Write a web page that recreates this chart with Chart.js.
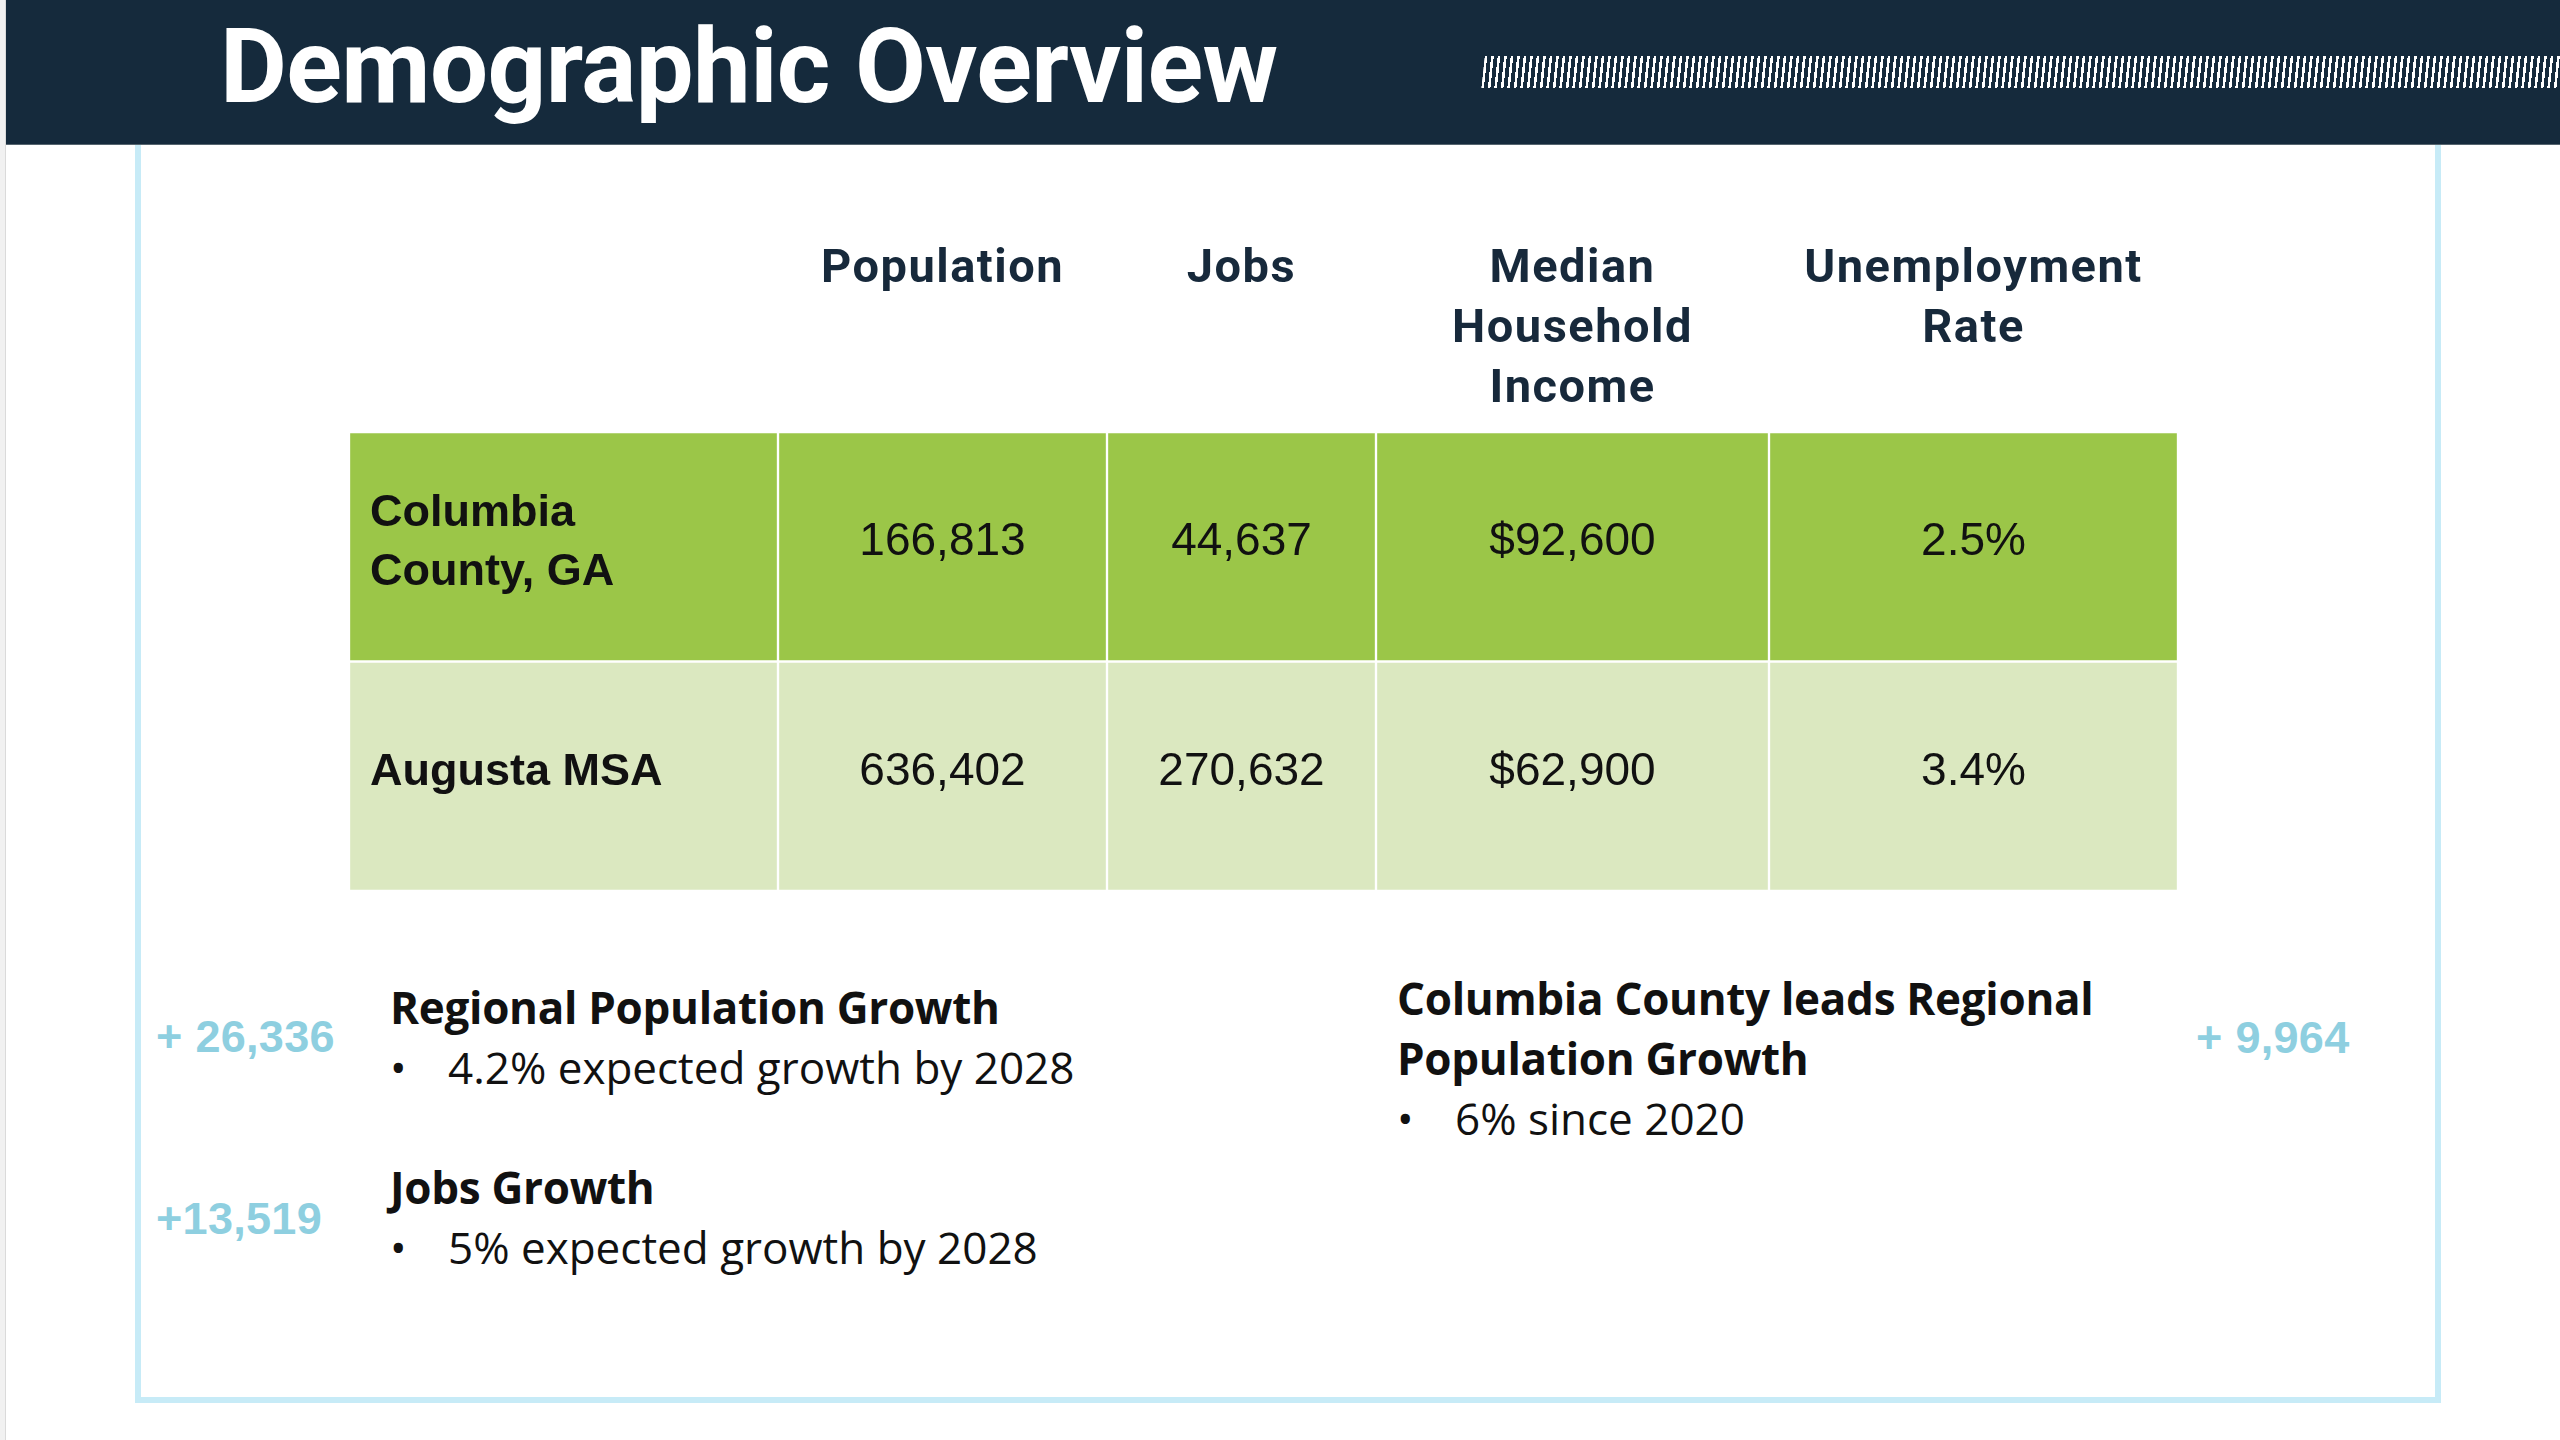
<!DOCTYPE html>
<html>
<head>
<meta charset="utf-8">
<title>Demographic Overview</title>
<script src="https://cdn.jsdelivr.net/npm/chart.js@4.4.1/dist/chart.umd.min.js"></script>
<style>
  html, body { margin: 0; padding: 0; background: #fff; }
  body { width: 2560px; height: 1440px; position: relative; overflow: hidden; font-family: "Open Sans", sans-serif; }
  .edge { position: absolute; left: 0; top: 0; width: 5px; height: 1440px; background: #f1f1f1; border-right: 1px solid #dadada; }
  .frame { position: absolute; left: 135px; top: 120px; width: 2306px; height: 1283px; box-sizing: border-box; border: 6px solid #c7ebf7; }
  .header { position: absolute; left: 6px; top: 0; width: 2554px; height: 144px; background: #152a3c; border-bottom: 1px solid #56656f; overflow: hidden; z-index: 2; }
  .header h1 { position: absolute; left: 214px; top: 15px; margin: 0; color: #fff; font: bold 103px/104px Roboto, "Liberation Sans", sans-serif; letter-spacing: -0.6px; white-space: nowrap; }
  .stripes { position: absolute; left: 1477px; top: 56px; width: 1100px; height: 32px; transform: skewX(-6deg);
    background: repeating-linear-gradient(90deg, #fff 0 2.6px, transparent 2.6px 6.5px); }
  #table { position: absolute; left: 349px; top: 200px; width: 1829px; height: 691px; }
  .note { position: absolute; font-size: 44px; line-height: 60px; color: #111; white-space: nowrap; }
  .note .t { font-weight: bold; letter-spacing: -0.3px; }
  .note .b { position: relative; padding-left: 58px; }
  .note .b::before { content: "\2022"; position: absolute; left: 0; }
  .gain { position: absolute; font: bold 45px/60px "Liberation Sans", Arial, sans-serif; letter-spacing: 0.3px; color: #8ecfe0; white-space: nowrap; }
</style>
</head>
<body>
<div class="edge"></div>
<div class="frame"></div>
<div class="header"><h1>Demographic Overview</h1><div class="stripes"></div></div>
<div id="table"><canvas id="canvas"></canvas></div>
<div id="notes"></div>
<script>
// table data
var headers = ['', 'Population', 'Jobs', 'Median Household Income', 'Unemployment Rate'];
var headerLines = [[], ['Population'], ['Jobs'], ['Median', 'Household', 'Income'], ['Unemployment', 'Rate']];
var regions = ['Columbia County, GA', 'Augusta MSA'];
var population = [166813, 636402];
var jobs = [44637, 270632];
var medianIncome = [92600, 62900];
var unemploymentRate = [2.5, 3.4];

// growth notes
var noteTitles = ['Regional Population Growth', 'Jobs Growth', 'Columbia County leads Regional\nPopulation Growth'];
var noteBullets = ['4.2% expected growth by 2028', '5% expected growth by 2028', '6% since 2020'];
var noteGains = ['+ 26,336', '+13,519', '+ 9,964'];

// layout (pixels)
var colSpan = [429, 329, 269, 393, 409];
var rowColors = ['#9bc648', '#dbe8c0'];
var notePos = [[390, 977], [390, 1157], [1397, 968]];
var gainPos = [[156, 1007], [156, 1189], [2196, 1008]];

var fmtInt = function(v) { return v.toLocaleString('en-US'); };
var cellValues = [
    population.map(fmtInt),
    jobs.map(fmtInt),
    medianIncome.map(function(v) { return '$' + fmtInt(v); }),
    unemploymentRate.map(function(v) { return v.toFixed(1) + '%'; })
];

var colEdges = [0];
colSpan.forEach(function(w, i) { colEdges.push(colEdges[i] + w); });
var colCenters = colSpan.map(function(w, i) { return colEdges[i] + w / 2; });

var datasets = headers.map(function(h, c) {
    return {
        label: h || 'Region',
        data: regions.map(function() { return [colEdges[c], colEdges[c + 1]]; }),
        backgroundColor: rowColors,
        borderColor: '#ffffff',
        borderWidth: 1.5,
        borderSkipped: false,
        grouped: false,
        barPercentage: 1,
        categoryPercentage: 1
    };
});

function wrapText(ctx, text, maxWidth) {
    var words = text.split(' '), lines = [], line = '';
    words.forEach(function(w) {
        var test = line ? line + ' ' + w : w;
        if (line && ctx.measureText(test).width > maxWidth) {
            lines.push(line);
            line = w;
        } else {
            line = test;
        }
    });
    lines.push(line);
    return lines;
}

// header ticks are drawn a little letter-spaced
var spacing = {
    id: 'spacing',
    beforeLayout: function(chart) { chart.ctx.letterSpacing = '1.5px'; },
    beforeDraw: function(chart) { chart.ctx.letterSpacing = '1.5px'; }
};

var cellText = {
    id: 'cellText',
    afterDatasetsDraw: function(chart) {
        var ctx = chart.ctx;
        ctx.save();
        ctx.letterSpacing = '0px';
        ctx.fillStyle = '#111111';
        ctx.textBaseline = 'middle';
        chart.data.datasets.forEach(function(ds, c) {
            chart.getDatasetMeta(c).data.forEach(function(bar, r) {
                var left = Math.min(bar.x, bar.base), right = Math.max(bar.x, bar.base);
                var lines, x;
                if (c === 0) {
                    ctx.font = 'bold 45px "Liberation Sans", Arial, sans-serif';
                    ctx.textAlign = 'left';
                    lines = wrapText(ctx, regions[r], (right - left) * 0.8);
                    x = left + 21;
                } else {
                    ctx.font = '46px "Liberation Sans", Arial, sans-serif';
                    ctx.textAlign = 'center';
                    lines = [cellValues[c - 1][r]];
                    x = (left + right) / 2;
                }
                var lh = 59;
                var y0 = bar.y - 4 - (lines.length - 1) * lh / 2;
                lines.forEach(function(l, i) { ctx.fillText(l, x, y0 + i * lh); });
            });
        });
        ctx.restore();
        ctx.letterSpacing = '1.5px';
    }
};

window.onload = function() {
    var ctx = document.getElementById('canvas').getContext('2d');
    new Chart(ctx, {
        type: 'bar',
        data: { labels: regions, datasets: datasets },
        plugins: [spacing, cellText],
        options: {
            indexAxis: 'y',
            responsive: true,
            maintainAspectRatio: false,
            animation: false,
            layout: { padding: 0 },
            plugins: { legend: { display: false }, tooltip: { enabled: false } },
            scales: {
                x: {
                    type: 'linear',
                    position: 'top',
                    min: 0,
                    max: colEdges[colEdges.length - 1],
                    grid: { display: false, drawTicks: false },
                    border: { display: false },
                    afterBuildTicks: function(scale) {
                        scale.ticks = colCenters.slice(1).map(function(v) { return { value: v }; });
                    },
                    afterFit: function(scale) { scale.height = 232; },
                    ticks: {
                        autoSkip: false,
                        maxRotation: 0,
                        minRotation: 0,
                        crossAlign: 'far',
                        padding: 12,
                        color: '#17293b',
                        font: { family: 'Roboto', weight: 'bold', size: 47, lineHeight: 60 / 47 },
                        callback: function(value, index) { return headerLines[index + 1]; }
                    }
                },
                y: { display: false }
            }
        }
    });

    var notes = document.getElementById('notes');
    noteTitles.forEach(function(t, i) {
        var d = document.createElement('div');
        d.className = 'note';
        d.style.left = notePos[i][0] + 'px';
        d.style.top = notePos[i][1] + 'px';
        t.split('\n').forEach(function(line) {
            var s = document.createElement('div');
            s.className = 't';
            s.textContent = line;
            d.appendChild(s);
        });
        var b = document.createElement('div');
        b.className = 'b';
        b.textContent = noteBullets[i];
        d.appendChild(b);
        notes.appendChild(d);

        var g = document.createElement('div');
        g.className = 'gain';
        g.style.left = gainPos[i][0] + 'px';
        g.style.top = gainPos[i][1] + 'px';
        g.textContent = noteGains[i];
        notes.appendChild(g);
    });
};
</script>
</body>
</html>
